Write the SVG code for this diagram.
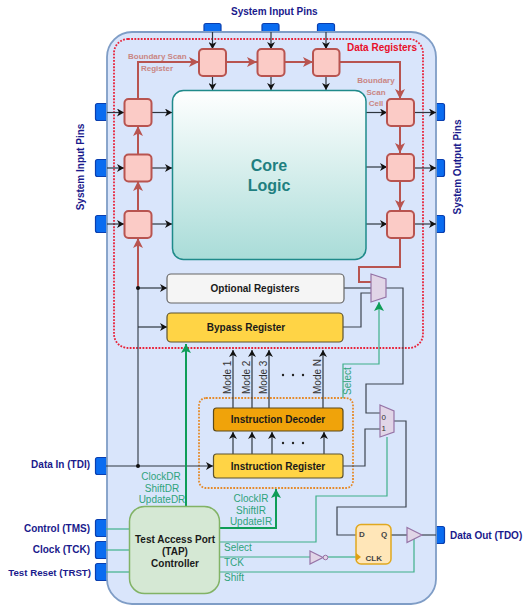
<svg xmlns="http://www.w3.org/2000/svg" width="523" height="605" viewBox="0 0 523 605">
<style>
text{font-family:"Liberation Sans",Arial,sans-serif}
.pin{fill:#0a6cf0;stroke:#0a3fb0;stroke-width:1.2}
.cell{fill:#fbcbc6;stroke:#b85450;stroke-width:2}
.w{fill:none;stroke:#3c4450;stroke-width:1.2}
.wa{fill:none;stroke:#2e3640;stroke-width:1.2;marker-end:url(#ab)}
.r{fill:none;stroke:#b85450;stroke-width:2;marker-end:url(#ar)}
.r0{fill:none;stroke:#b85450;stroke-width:2}
.g{fill:none;stroke:#3fb08a;stroke-width:1.2}
.gt{fill:none;stroke:#0f9d58;stroke-width:2;marker-end:url(#ag)}
.pl{font-size:10px;font-weight:bold;fill:#1a1a8c}
.gl{font-size:10px;fill:#2fa37c}
.rl{font-size:8px;font-weight:bold;fill:#c98583}
.bl{font-size:10px;font-weight:bold;fill:#1a1a1a;text-anchor:middle}
.ml{font-size:10px;fill:#333}
.mux{fill:#e1d5e7;stroke:#9673a6;stroke-width:1.2}
</style>
<defs>
<linearGradient id="core" x1="0" y1="0" x2="0" y2="1"><stop offset="0" stop-color="#ffffff"/><stop offset="1" stop-color="#a9dcd8"/></linearGradient>
<marker id="ab" markerWidth="8" markerHeight="8" refX="7" refY="4" orient="auto" markerUnits="userSpaceOnUse"><path d="M0,0L7,4L0,8L2,4Z" fill="#111"/></marker>
<marker id="ar" markerWidth="12" markerHeight="10" refX="10" refY="5" orient="auto" markerUnits="userSpaceOnUse"><path d="M0,0L10,5L0,10L2.500,5Z" fill="#b85450"/></marker>
<marker id="ag" markerWidth="10" markerHeight="10" refX="9" refY="5" orient="auto" markerUnits="userSpaceOnUse"><path d="M0,0L9,5L0,10L2,5Z" fill="#0f9d58"/></marker>
</defs>
<g id="pins">
<rect class="pin" x="204" y="23.500" width="17" height="14" rx="2"/>
<rect class="pin" x="262" y="23.500" width="17" height="14" rx="2"/>
<rect class="pin" x="317.500" y="23.500" width="17" height="14" rx="2"/>
<rect class="pin" x="95.500" y="103.500" width="18" height="17" rx="2"/>
<rect class="pin" x="95.500" y="159.500" width="18" height="17" rx="2"/>
<rect class="pin" x="95.500" y="215.500" width="18" height="17" rx="2"/>
<rect class="pin" x="95.500" y="457.500" width="18" height="17" rx="2"/>
<rect class="pin" x="95.500" y="519.500" width="18" height="17" rx="2"/>
<rect class="pin" x="95.500" y="541.500" width="18" height="17" rx="2"/>
<rect class="pin" x="95.500" y="563.500" width="18" height="17" rx="2"/>
<rect class="pin" x="428" y="103.500" width="16.500" height="17" rx="2"/>
<rect class="pin" x="428" y="159.500" width="16.500" height="17" rx="2"/>
<rect class="pin" x="428" y="215.500" width="16.500" height="17" rx="2"/>
<rect class="pin" x="428" y="526.500" width="16.500" height="17" rx="2"/>
</g>
<g id="panel"><rect x="107" y="32" width="329" height="572" rx="25" fill="#d9e5fb" stroke="#7f9dc6" stroke-width="1.800"/></g>
<g id="data-registers"><rect x="114" y="39" width="309" height="309" rx="14" fill="none" stroke="#e8233a" stroke-width="1.800" stroke-dasharray="1.800 1.400"/>
<text x="347" y="51" font-size="10" font-weight="bold" fill="#e8102a">Data Registers</text></g>
<g id="instr-group"><rect x="199" y="398" width="154" height="90" rx="7" fill="none" stroke="#e58a2a" stroke-width="1.800" stroke-dasharray="1.800 1.400"/></g>
<g id="connectors">
<path class="wa" d="M212.500,32V49"/><path class="wa" d="M271,32V49"/><path class="wa" d="M326,32V49"/>
<path class="wa" d="M212.500,76V90"/><path class="wa" d="M271,76V90"/><path class="wa" d="M326,76V90"/>
<path class="wa" d="M107,112.500H124"/><path class="wa" d="M107,168H124"/><path class="wa" d="M107,224H124"/>
<path class="wa" d="M151,112.500H172"/><path class="wa" d="M151,168H172"/><path class="wa" d="M151,224H172"/>
<path class="wa" d="M366,112.500H387"/><path class="wa" d="M366,167H387"/><path class="wa" d="M366,224H387"/>
<path class="wa" d="M414,112.500H436"/><path class="wa" d="M414,168H436"/><path class="wa" d="M414,224H436"/>
<path class="r" d="M138,99V62H199"/><path class="r" d="M226,62H257"/><path class="r" d="M284,62H313"/>
<path class="r" d="M339,62H400V99"/><path class="r" d="M400,126V153"/><path class="r" d="M400,181V210"/>
<path class="r" d="M138,154V126"/><path class="r" d="M138,211V181"/><path class="r" d="M138,288V238"/>
<path class="r0" d="M400,238V267H359V282H371"/>
<path class="w" d="M138,288V466"/>
<path class="wa" d="M138,288H167"/><path class="wa" d="M138,327H167"/>
<path class="wa" d="M106,466H213"/>
<circle cx="138" cy="288" r="2" fill="#111"/><circle cx="138" cy="466" r="2" fill="#111"/>
<path class="w" d="M344,288H371"/><path class="w" d="M343,327H361V293H371"/>
<path class="w" d="M386,288H403V384H366V413H380"/>
<path class="w" d="M343,466H365V429H380"/>
<path class="w" d="M394,421H406V507H337V535H356"/>
<path class="w" d="M391,535H407"/><path class="w" d="M422,535H436"/>
<path class="wa" d="M233,408V350"/><path class="wa" d="M252,408V350"/><path class="wa" d="M269,408V350"/><path class="wa" d="M323,408V350"/>
<path class="wa" d="M233,454V432"/><path class="wa" d="M252,454V432"/><path class="wa" d="M272,454V432"/><path class="wa" d="M324,454V432"/>
<path class="gt" d="M186,506V344"/>
<path class="gt" d="M219,528H276V489"/>
<path class="g" d="M106,529H129"/><path class="g" d="M106,550H129"/><path class="g" d="M106,572H129"/>
<path class="g" d="M219,542H316V496H387V437"/>
<path class="g" d="M343,398V364H379V302" style="marker-end:url(#ag)"/>
<path class="g" d="M219,557H310"/><path class="g" d="M328,557H356"/>
<path class="g" d="M219,572H414V538"/>
</g>
<g id="bsc-top-1"><rect class="cell" x="199" y="49" width="27" height="27" rx="4"/></g>
<g id="bsc-top-2"><rect class="cell" x="257.500" y="49" width="27" height="27" rx="4"/></g>
<g id="bsc-top-3"><rect class="cell" x="313" y="49" width="26.500" height="27" rx="4"/></g>
<g id="bsc-left-1"><rect class="cell" x="124.500" y="99" width="27" height="27" rx="4"/></g>
<g id="bsc-left-2"><rect class="cell" x="124.500" y="154.500" width="27" height="27" rx="4"/></g>
<g id="bsc-left-3"><rect class="cell" x="124.500" y="211" width="27" height="27" rx="4"/></g>
<g id="bsc-right-1"><rect class="cell" x="387" y="99" width="27" height="27" rx="4"/></g>
<g id="bsc-right-2"><rect class="cell" x="387" y="154" width="27" height="27" rx="4"/></g>
<g id="bsc-right-3"><rect class="cell" x="387" y="211" width="27" height="27" rx="4"/></g>
<g id="core-logic"><rect x="172.500" y="90.500" width="193.500" height="169" rx="11" fill="url(#core)" stroke="#1f8a8a" stroke-width="1.500"/>
<text x="269" y="171" font-size="16" font-weight="bold" fill="#1f7f80" text-anchor="middle">Core</text>
<text x="269" y="191" font-size="16" font-weight="bold" fill="#1f7f80" text-anchor="middle">Logic</text></g>
<g id="optional"><rect x="167" y="274" width="177" height="29" rx="4" fill="#f5f5f5" stroke="#666" stroke-width="1.200"/><text class="bl" x="255" y="292">Optional Registers</text></g>
<g id="bypass"><rect x="167" y="313" width="176" height="29" rx="4" fill="#ffd445" stroke="#5c5330" stroke-width="1.200"/><text class="bl" x="246" y="331">Bypass Register</text></g>
<g id="decoder"><rect x="213.500" y="408" width="129.500" height="23" rx="3" fill="#f0a30a" stroke="#5c4a18" stroke-width="1.200"/><text class="bl" x="278" y="423">Instruction Decoder</text></g>
<g id="ireg"><rect x="213.500" y="454" width="129.500" height="24" rx="3" fill="#ffd445" stroke="#5c5330" stroke-width="1.200"/><text class="bl" x="278" y="470">Instruction Register</text></g>
<g id="tap"><rect x="129.500" y="506.500" width="90" height="87" rx="15" fill="#d5e8d4" stroke="#82b366" stroke-width="1.500"/>
<text class="bl" x="175" y="543">Test Access Port</text><text class="bl" x="175" y="555">(TAP)</text><text class="bl" x="175" y="567">Controller</text></g>
<g id="mux1"><path class="mux" d="M371,274L386,279V297L371,302Z"/></g>
<g id="mux2"><path class="mux" d="M380,405L394,411V432L380,437Z"/><text x="381.500" y="420" font-size="8" fill="#333">0</text><text x="381.500" y="431" font-size="8" fill="#333">1</text></g>
<g id="ff"><rect x="356" y="524.500" width="35" height="39.500" rx="5" fill="#ffe6b8" stroke="#e0a820" stroke-width="1.500"/>
<path d="M356,553L361,557L356,561Z" fill="#e0a010"/>
<text x="359" y="537" font-size="8" font-weight="bold" fill="#444">D</text><text x="381" y="537" font-size="8" font-weight="bold" fill="#444">Q</text><text x="365.500" y="561" font-size="8" font-weight="bold" fill="#444">CLK</text></g>
<g id="buffer"><path class="mux" d="M407,527.500L422,535L407,542.500Z"/></g>
<g id="inverter"><path class="mux" d="M310,551L323,557.500L310,564Z"/><circle cx="325.500" cy="557.500" r="2.300" fill="#e1d5e7" stroke="#9673a6"/></g>
<g id="labels">
<text class="pl" x="231" y="15">System Input Pins</text>
<text class="pl" transform="translate(84,167) rotate(-90)" text-anchor="middle">System Input Pins</text>
<text class="pl" transform="translate(461,167) rotate(-90)" text-anchor="middle">System Output Pins</text>
<text class="pl" x="90" y="468" text-anchor="end">Data In (TDI)</text>
<text class="pl" x="90" y="532" text-anchor="end">Control (TMS)</text>
<text class="pl" x="90" y="553" text-anchor="end">Clock (TCK)</text>
<text class="pl" x="91" y="576" text-anchor="end" style="font-size:9.700px">Test Reset (TRST)</text>
<text class="pl" x="450" y="539">Data Out (TDO)</text>
<text class="rl" x="128" y="59">Boundary Scan</text>
<text class="rl" x="141" y="71">Register</text>
<text class="rl" x="376" y="83" text-anchor="middle">Boundary</text>
<text class="rl" x="376" y="94.500" text-anchor="middle">Scan</text>
<text class="rl" x="376" y="106" text-anchor="middle">Cell</text>
<text class="gl" x="161" y="480" text-anchor="middle">ClockDR</text>
<text class="gl" x="162" y="492" text-anchor="middle">ShiftDR</text>
<text class="gl" x="162" y="503" text-anchor="middle">UpdateDR</text>
<text class="gl" x="251" y="502" text-anchor="middle">ClockIR</text>
<text class="gl" x="251" y="514" text-anchor="middle">ShiftIR</text>
<text class="gl" x="251" y="525" text-anchor="middle">UpdateIR</text>
<text class="gl" x="224" y="551">Select</text>
<text class="gl" x="224" y="566">TCK</text>
<text class="gl" x="224" y="581">Shift</text>
<text class="gl" transform="translate(351,395) rotate(-90)">Select</text>
<text class="ml" transform="translate(231,394) rotate(-90)">Mode 1</text>
<text class="ml" transform="translate(250,394) rotate(-90)">Mode 2</text>
<text class="ml" transform="translate(267,394) rotate(-90)">Mode 3</text>
<text class="ml" transform="translate(321,394) rotate(-90)">Mode N</text>
</g>
<g id="dots" fill="#222">
<circle cx="283" cy="375" r="1.200"/><circle cx="293" cy="375" r="1.200"/><circle cx="303" cy="375" r="1.200"/>
<circle cx="283" cy="443" r="1.200"/><circle cx="293" cy="443" r="1.200"/><circle cx="303" cy="443" r="1.200"/>
</g>
</svg>
